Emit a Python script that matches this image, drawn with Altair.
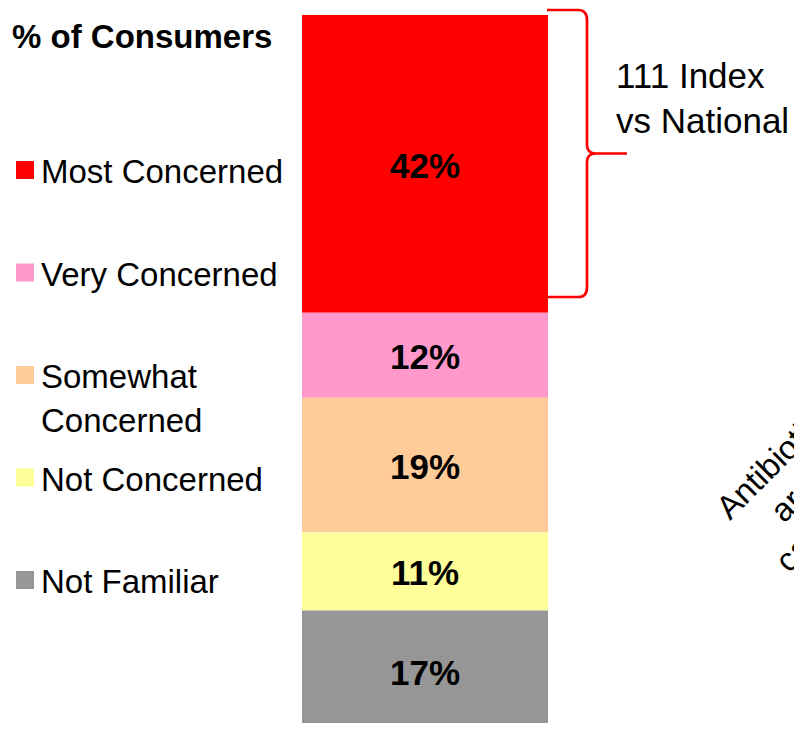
import altair as alt
import pandas as pd

# ---- data ----
categories = ["Most Concerned", "Very Concerned", "Somewhat Concerned", "Not Concerned", "Not Familiar"]
values = [42, 12, 19, 11, 17]
colors = ["#FF0000", "#FF99CC", "#FFCC99", "#FFFF99", "#969696"]
legend_labels = ["Most Concerned", "Very Concerned", "Somewhat\nConcerned", "Not Concerned", "Not Familiar"]
title_text = "% of Consumers"
bracket_text = "111 Index\nvs National"
side_lines = ["Antibiotics", "are", "can"]

FONT = "Liberation Sans"

df = pd.DataFrame({
    "category": categories,
    "value": values,
    "group": ["Consumers"] * len(categories),
    "stack_order": list(range(len(categories) - 1, -1, -1)),
})
legend_df = pd.DataFrame({"category": categories, "display": legend_labels})

color_scale = alt.Scale(domain=categories, range=colors)
y_scale = alt.Scale(domain=[0, sum(values)], range=[723, 7], nice=False, zero=False)
x_enc = alt.X("group:N", axis=None, scale=alt.Scale(range=[294, 540], paddingInner=0, paddingOuter=0))

base = alt.Chart(df).transform_stack(
    stack="value", groupby=["group"], as_=["y0", "y1"],
    sort=[alt.SortField("stack_order", order="ascending")],
).transform_calculate(
    mid="(datum.y0 + datum.y1) / 2",
    label="datum.value + '%'",
)

bars = base.mark_bar().encode(
    x=x_enc,
    y=alt.Y("y0:Q", axis=None, scale=y_scale),
    y2="y1:Q",
    color=alt.Color("category:N", scale=color_scale, legend=None),
)

bar_labels = base.mark_text(font=FONT, fontSize=35, fontWeight="bold", baseline="middle", dy=3, color="black").encode(
    x=x_enc,
    y=alt.Y("mid:Q", axis=None, scale=y_scale),
    text="label:N",
)

leg_y = alt.Y("category:N", axis=None,
              scale=alt.Scale(type="point", domain=categories, range=[162, 572], padding=0))

leg_squares = alt.Chart(legend_df).mark_square(size=324, opacity=1, filled=True).encode(
    x=alt.value(17),
    y=leg_y,
    color=alt.Color("category:N", scale=color_scale, legend=None),
)

leg_text = alt.Chart(legend_df).mark_text(
    font=FONT, fontSize=33, align="left", baseline="alphabetic", dy=13,
    lineBreak="\n", lineHeight=44, color="black",
).encode(
    x=alt.value(33),
    y=leg_y,
    text="display:N",
)

def one(text):
    return alt.Chart(pd.DataFrame({"t": [text]}))

title = one(title_text).mark_text(
    font=FONT, fontSize=33, fontWeight="bold", align="left", baseline="alphabetic", color="black"
).encode(x=alt.value(4), y=alt.value(40), text="t:N")

BRACE = ("M -0.279 -1 L -0.06 -1 Q 0 -1 0 -0.93 L 0 -0.06 Q 0 0 0.06 0 L 0.279 0 "
         "M 0.06 0 Q 0 0 0 0.06 L 0 0.93 Q 0 1 -0.06 1 L -0.279 1")
bracket = one("b").mark_point(
    shape=BRACE, size=287 ** 2, filled=False, stroke="#FF0000", strokeWidth=2.7, opacity=1
).encode(x=alt.value(579), y=alt.value(145.5))

bracket_label = one(bracket_text).mark_text(
    font=FONT, fontSize=35, align="left", baseline="alphabetic", lineBreak="\n", lineHeight=45, color="black"
).encode(x=alt.value(608), y=alt.value(80), text="t:N")

side_pos = [(722, 513), (776, 516), (781, 566)]
side_layers = [
    one(t).mark_text(font=FONT, fontSize=33, angle=315, align="left", baseline="alphabetic", color="black")
    .encode(x=alt.value(px), y=alt.value(py), text="t:N")
    for t, (px, py) in zip(side_lines, side_pos)
]

chart = alt.layer(
    bars, bar_labels, leg_squares, leg_text, title, bracket, bracket_label, *side_layers
).resolve_scale(
    y="independent"
).properties(
    width=786, height=715, padding=0,
    autosize=alt.AutoSizeParams(type="none"),
).configure_view(stroke=None)

chart.save("out.html", embed_options={"renderer": "svg", "actions": False})
